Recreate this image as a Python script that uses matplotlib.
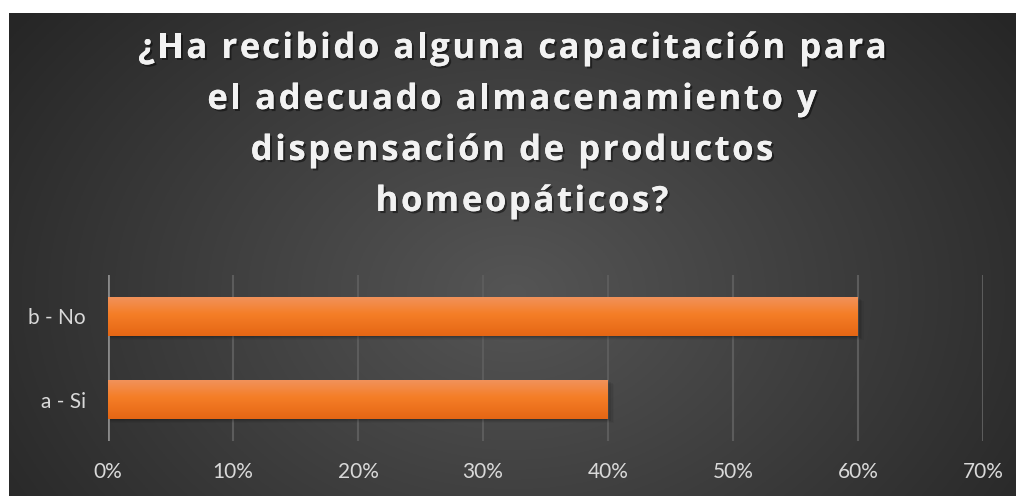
import numpy as np
import matplotlib
matplotlib.use("Agg")
import matplotlib.pyplot as plt
from matplotlib.patches import Rectangle
from matplotlib.font_manager import FontProperties
import matplotlib.patheffects as pe

categories = ["a - Si", "b - No"]
values = [0.40, 0.60]
xticks = [0, 0.1, 0.2, 0.3, 0.4, 0.5, 0.6, 0.7]
xtick_labels = ["0%", "10%", "20%", "30%", "40%", "50%", "60%", "70%"]
title_lines = ["¿Ha recibido alguna capacitación para",
               "el adecuado almacenamiento y",
               "dispensación de productos",
               "homeopáticos?"]

W, H = 1017, 496
fig = plt.figure(figsize=(W / 100, H / 100), dpi=100)
fig.patch.set_facecolor("white")

# background panel with radial gradient
bg_ax = fig.add_axes([9 / W, 0, (1016 - 9) / W, (H - 13) / H])
bg_ax.set_axis_off()
ny, nx = 300, 600
yy, xx = np.mgrid[0:ny, 0:nx]
cx, cy = nx * 0.50, ny * 0.58
r = np.sqrt(((xx - cx) / (nx * 0.62)) ** 2 + ((yy - cy) / (ny * 0.95)) ** 2)
r = np.clip(r, 0, 1)
light = np.array([0x55, 0x55, 0x55]) / 255
dark = np.array([0x26, 0x26, 0x26]) / 255
img = light[None, None, :] * (1 - r[..., None]) + dark[None, None, :] * r[..., None]
bg_ax.imshow(img, aspect="auto", extent=[0, 1, 0, 1], origin="upper")
bg_ax.set_xlim(0, 1)
bg_ax.set_ylim(0, 1)

# plot area
x0, x1 = 108, 983
y_top, y_bot = 275, 441
ax = fig.add_axes([x0 / W, (H - y_bot) / H, (x1 - x0) / W, (y_bot - y_top) / H])
ax.set_facecolor("none")
for s in ax.spines.values():
    s.set_visible(False)
ax.axvline(0, color="#8a8a8a", lw=2, zorder=3)
for t in xticks[1:]:
    ax.axvline(t, color="#5c5c5c", lw=1.5, zorder=1)

bar_h = 0.48
c_top = np.array([0xf1, 0x93, 0x5e]) / 255
c_mid = np.array([0xf5, 0x7e, 0x27]) / 255
c_bot = np.array([0xe5, 0x66, 0x14]) / 255
gimg = np.zeros((100, 1, 3))
for i, g in enumerate(np.linspace(0, 1, 100)):
    if g < 0.45:
        f = g / 0.45
        gimg[i, 0] = c_top * (1 - f) + c_mid * f
    else:
        f = (g - 0.45) / 0.55
        gimg[i, 0] = c_mid * (1 - f) + c_bot * f

for i, v in enumerate(values):
    for k, a in enumerate([0.10, 0.08, 0.06, 0.04]):
        sh = Rectangle((0, i - bar_h / 2 - 0.012 * (k + 1)), v + 0.0012 * (k + 1), bar_h,
                       facecolor="black", alpha=a, edgecolor="none", zorder=2)
        ax.add_patch(sh)
    rect = Rectangle((0, i - bar_h / 2), v, bar_h, facecolor="none", edgecolor="none", zorder=4)
    ax.add_patch(rect)
    im = ax.imshow(gimg, aspect="auto", extent=[0, v, i - bar_h / 2, i + bar_h / 2],
                   origin="upper", zorder=4, interpolation="bilinear")
    im.set_clip_path(rect)
ax.set_xlim(0, 0.7)
ax.set_ylim(-0.5, 1.5)

ax.set_yticks(range(len(categories)))
ax.set_yticklabels(categories, fontfamily="Lato", fontsize=15, color="#d9d9d9")
ax.set_xticks(xticks)
ax.set_xticklabels(xtick_labels, fontfamily="Lato", fontsize=15, color="#d9d9d9")
ax.tick_params(axis="both", length=0)
ax.tick_params(axis="x", pad=15)
ax.tick_params(axis="y", pad=16)

# letter-spaced title
fig.canvas.draw()
renderer = fig.canvas.get_renderer()
prop = FontProperties(family="Open Sans", weight="bold", size=25)


def text_width(s):
    w1, _, _ = renderer.get_text_width_height_descent(s + "|", prop, ismath=False)
    w2, _, _ = renderer.get_text_width_height_descent("|", prop, ismath=False)
    return w1 - w2


target_w = 748.0
base_w = text_width(title_lines[0])
spacing = (target_w - base_w) / (len(title_lines[0]) - 1)
baselines = [58, 109, 160, 211]
centers = [512, 512, 512, 522]
effects = [pe.withSimplePatchShadow(offset=(1.5, -1.5), shadow_rgbFace="black", alpha=0.45),
           pe.Normal()]
for line, base, cxp in zip(title_lines, baselines, centers):
    total = text_width(line) + spacing * (len(line) - 1)
    start = cxp - total / 2
    for j, ch in enumerate(line):
        if ch == " ":
            continue
        xpos = start + text_width(line[:j]) + spacing * j
        fig.text(xpos / W, 1 - base / H, ch, ha="left", va="baseline",
                 fontproperties=prop, color="#f2f2f2", path_effects=effects)

fig.savefig("out.png", dpi=100, facecolor=fig.get_facecolor())
